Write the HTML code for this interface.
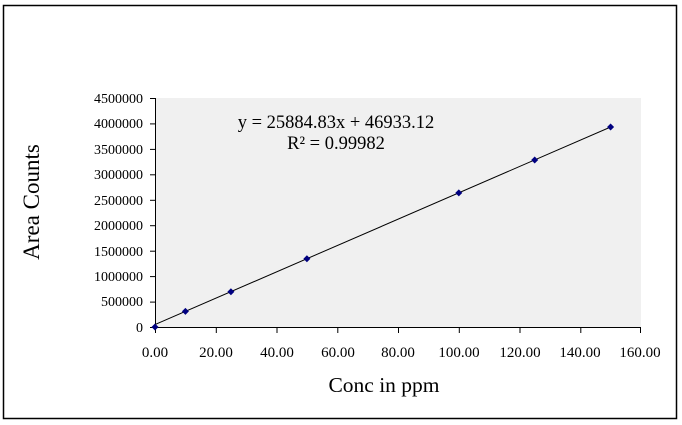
<!DOCTYPE html>
<html><head><meta charset="utf-8"><style>
html,body{margin:0;padding:0;background:#fff;}
svg{display:block;font-family:"Liberation Serif",serif;}
</style></head><body>
<svg width="682" height="425" viewBox="0 0 682 425">
<rect x="3.5" y="5.5" width="673" height="413" fill="#fff" stroke="#000" stroke-width="1.5"/>
<rect x="155" y="98" width="486" height="229" fill="#f0f0f0"/>
<g stroke="#000" stroke-width="1">
<line x1="155.5" y1="98" x2="155.5" y2="327.5"/>
<line x1="155" y1="327.5" x2="641" y2="327.5"/>
<line x1="150" y1="98.5" x2="155" y2="98.5"/>
<line x1="150" y1="123.9" x2="155" y2="123.9"/>
<line x1="150" y1="149.4" x2="155" y2="149.4"/>
<line x1="150" y1="174.8" x2="155" y2="174.8"/>
<line x1="150" y1="200.3" x2="155" y2="200.3"/>
<line x1="150" y1="225.7" x2="155" y2="225.7"/>
<line x1="150" y1="251.2" x2="155" y2="251.2"/>
<line x1="150" y1="276.6" x2="155" y2="276.6"/>
<line x1="150" y1="302.1" x2="155" y2="302.1"/>
<line x1="150" y1="327.5" x2="155" y2="327.5"/>
<line x1="155.5" y1="327" x2="155.5" y2="333"/>
<line x1="216.3" y1="327" x2="216.3" y2="333"/>
<line x1="277" y1="327" x2="277" y2="333"/>
<line x1="337.8" y1="327" x2="337.8" y2="333"/>
<line x1="398.5" y1="327" x2="398.5" y2="333"/>
<line x1="459.3" y1="327" x2="459.3" y2="333"/>
<line x1="520" y1="327" x2="520" y2="333"/>
<line x1="580.8" y1="327" x2="580.8" y2="333"/>
<line x1="640.5" y1="327" x2="640.5" y2="333"/>
</g>
<g font-size="14" text-anchor="end" fill="#000">
<text x="143" y="103">4500000</text>
<text x="143" y="128">4000000</text>
<text x="143" y="154">3500000</text>
<text x="143" y="179">3000000</text>
<text x="143" y="205">2500000</text>
<text x="143" y="230">2000000</text>
<text x="143" y="256">1500000</text>
<text x="143" y="281">1000000</text>
<text x="143" y="306">500000</text>
<text x="143" y="332">0</text>
</g>
<g font-size="15" text-anchor="middle" fill="#000">
<text x="155" y="357">0.00</text>
<text x="216" y="357">20.00</text>
<text x="277" y="357">40.00</text>
<text x="338" y="357">60.00</text>
<text x="398" y="357">80.00</text>
<text x="459" y="357">100.00</text>
<text x="520" y="357">120.00</text>
<text x="580" y="357">140.00</text>
<text x="640" y="357">160.00</text>
</g>
<line x1="155" y1="324.6" x2="610.6" y2="127.0" stroke="#000" stroke-width="1"/>
<g fill="#000080">
<path d="M155 323.5l3.5 3.5-3.5 3.5-3.5-3.5z"/>
<path d="M185.4 307.9l3.5 3.5-3.5 3.5-3.5-3.5z"/>
<path d="M230.9 288.2l3.5 3.5-3.5 3.5-3.5-3.5z"/>
<path d="M306.9 255.3l3.5 3.5-3.5 3.5-3.5-3.5z"/>
<path d="M458.8 189.4l3.5 3.5-3.5 3.5-3.5-3.5z"/>
<path d="M534.7 156.5l3.5 3.5-3.5 3.5-3.5-3.5z"/>
<path d="M610.6 123.5l3.5 3.5-3.5 3.5-3.5-3.5z"/>
</g>
<text x="336" y="128" font-size="18.5" text-anchor="middle">y = 25884.83x + 46933.12</text>
<text x="336" y="149" font-size="18.5" text-anchor="middle">R² = 0.99982</text>
<text x="384" y="392" font-size="21.5" text-anchor="middle">Conc in ppm</text>
<text transform="translate(39,202) rotate(-90)" font-size="23" text-anchor="middle">Area Counts</text>
</svg>
</body></html>
